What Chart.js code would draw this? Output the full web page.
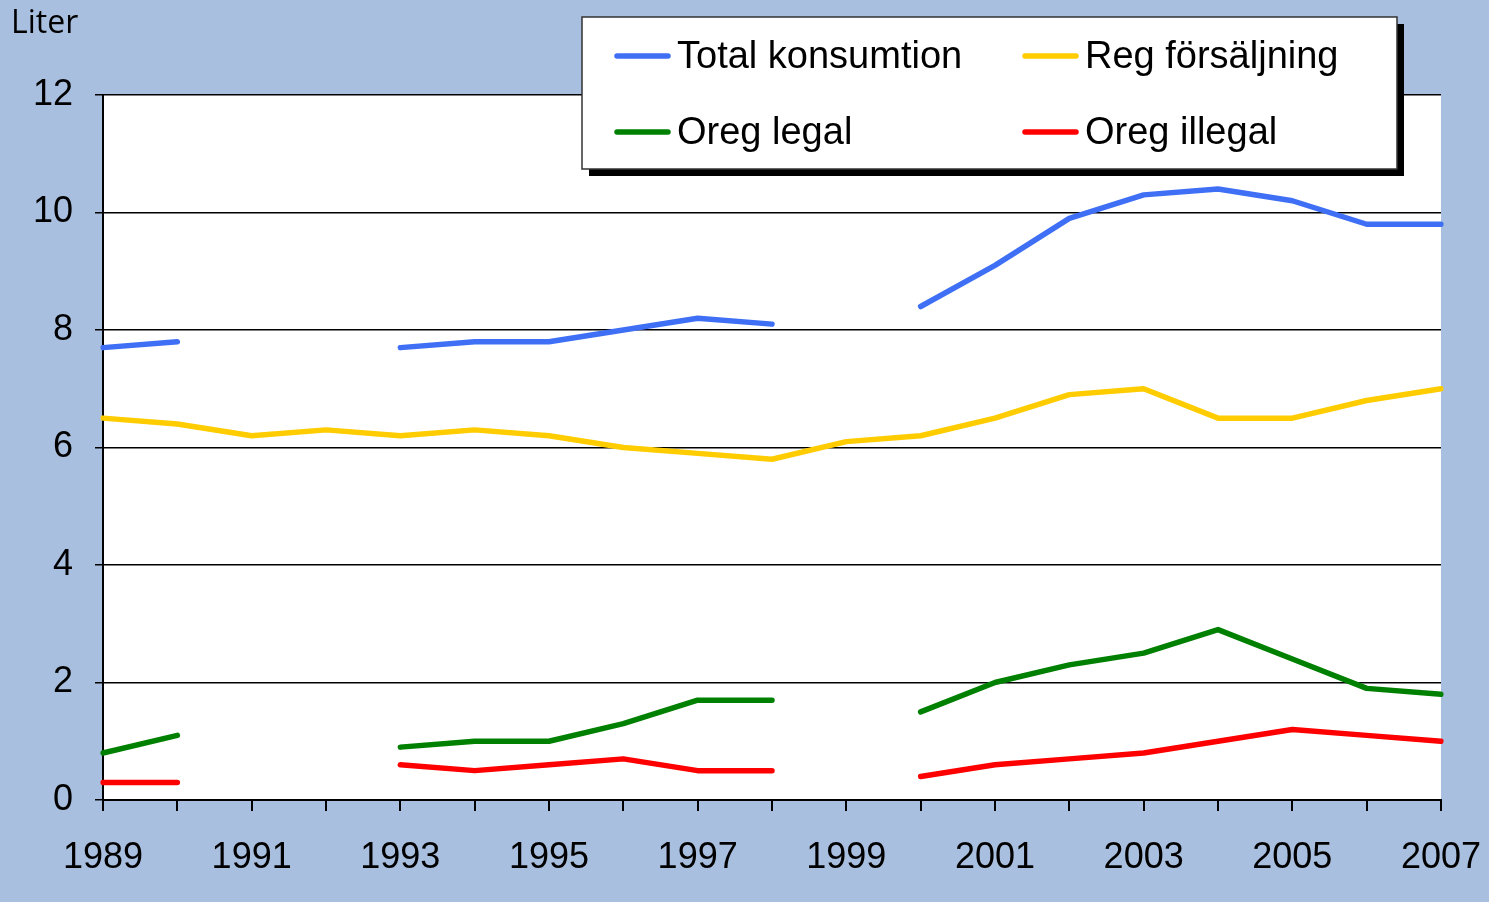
<!DOCTYPE html>
<html>
<head>
<meta charset="utf-8">
<script src="https://cdn.jsdelivr.net/npm/chart.js@4"></script>
<style>
  html, body { margin: 0; padding: 0; background: #a9bfdf; }
  #chart { display: block; }
</style>
</head>
<body>
<canvas id="chart" width="1489" height="902"></canvas>
<script>
// Data
var years = ['1989', '1990', '1991', '1992', '1993', '1994', '1995', '1996', '1997', '1998',
             '1999', '2000', '2001', '2002', '2003', '2004', '2005', '2006', '2007'];
var totalKonsumtion = [7.7, 7.8, null, null, 7.7, 7.8, 7.8, 8.0, 8.2, 8.1, null, 8.4, 9.1, 9.9, 10.3, 10.4, 10.2, 9.8, 9.8];
var regForsaljning  = [6.5, 6.4, 6.2, 6.3, 6.2, 6.3, 6.2, 6.0, 5.9, 5.8, 6.1, 6.2, 6.5, 6.9, 7.0, 6.5, 6.5, 6.8, 7.0];
var oregLegal       = [0.8, 1.1, null, null, 0.9, 1.0, 1.0, 1.3, 1.7, 1.7, null, 1.5, 2.0, 2.3, 2.5, 2.9, 2.4, 1.9, 1.8];
var oregIllegal     = [0.3, 0.3, null, null, 0.6, 0.5, 0.6, 0.7, 0.5, 0.5, null, 0.4, 0.6, 0.7, 0.8, 1.0, 1.2, 1.1, 1.0];
var yTicks = [0, 2, 4, 6, 8, 10, 12];

var FONT = '"Liberation Sans", Arial, sans-serif';

function series(label, data, color) {
  return {
    label: label,
    data: data,
    borderColor: color,
    backgroundColor: color,
    borderWidth: 5.5,
    borderCapStyle: 'round',
    borderJoinStyle: 'round',
    pointRadius: 0,
    tension: 0,
    spanGaps: false
  };
}

// Legend box + "Liter" label, drawn on top
var boxLegend = {
  id: 'boxLegend',
  afterDraw: function(chart) {
    var ctx = chart.ctx;
    ctx.save();
    // Liter
    ctx.fillStyle = '#000';
    ctx.font = '32px "Open Sans", sans-serif';
    ctx.textBaseline = 'middle';
    ctx.textAlign = 'left';
    ctx.fillText('Liter', 11, 24);

    // box with shadow
    var x = 582, y = 17, w = 815, h = 152;
    ctx.fillStyle = '#000';
    ctx.fillRect(x + 7, y + 7, w, h);
    ctx.fillStyle = '#fff';
    ctx.fillRect(x, y, w, h);
    ctx.strokeStyle = '#333';
    ctx.lineWidth = 1.5;
    ctx.strokeRect(x, y, w, h);

    var pos = [[617, 56], [1025, 56], [617, 132], [1025, 132]];
    chart.data.datasets.forEach(function(ds, i) {
      var p = pos[i];
      ctx.strokeStyle = ds.borderColor;
      ctx.lineWidth = 5.5;
      ctx.lineCap = 'round';
      ctx.beginPath();
      ctx.moveTo(p[0], p[1]);
      ctx.lineTo(p[0] + 51, p[1]);
      ctx.stroke();
      ctx.fillStyle = '#000';
      ctx.font = '38px ' + FONT;
      ctx.textBaseline = 'middle';
      ctx.fillText(ds.label, p[0] + 60, p[1] + 2);
    });
    ctx.restore();
  }
};

var lineChart = new Chart(document.getElementById('chart').getContext('2d'), {
  type: 'line',
  data: {
    labels: years,
    datasets: [
      series('Total konsumtion', totalKonsumtion, '#3e6ff5'),
      series('Reg försäljning', regForsaljning, '#ffcc00'),
      series('Oreg legal', oregLegal, '#008000'),
      series('Oreg illegal', oregIllegal, '#ff0000')
    ]
  },
  options: {
    responsive: false,
    animation: false,
    layout: { autoPadding: false, padding: { top: 95, right: 48, left: 0, bottom: 0 } },
    plugins: {
      legend: { display: false },
      tooltip: { enabled: false }
    },
    scales: {
      x: {
        offset: false,
        grid: { drawOnChartArea: false, drawTicks: true, tickLength: 11, color: '#000', lineWidth: 2 },
        border: { color: '#000', width: 2 },
        ticks: {
          autoSkip: false,
          maxRotation: 0,
          color: '#000',
          padding: 25,
          font: { family: FONT, size: 36 },
          callback: function(v, i) { return i % 2 === 0 ? years[i] : ''; }
        },
        afterFit: function(scale) {
          scale.height = 102;
          scale.paddingLeft = 0;
          scale.paddingRight = 0;
        }
      },
      y: {
        min: 0,
        max: 12,
        afterBuildTicks: function(scale) { scale.ticks = yTicks.map(function(v) { return { value: v }; }); },
        grid: { color: '#000', lineWidth: 1.5, tickLength: 8 },
        border: { color: '#000', width: 2 },
        ticks: { color: '#000', padding: 22, font: { family: FONT, size: 36 } },
        afterFit: function(scale) {
          scale.width = 103;
          scale.paddingTop = 0;
          scale.paddingBottom = 0;
        }
      }
    }
  },
  plugins: [{
    id: 'bg',
    beforeDraw: function(chart) {
      var ctx = chart.ctx, a = chart.chartArea;
      ctx.save();
      ctx.fillStyle = '#a9bfdf';
      ctx.fillRect(0, 0, chart.width, chart.height);
      ctx.fillStyle = '#fff';
      ctx.fillRect(a.left, a.top, a.right - a.left, a.bottom - a.top);
      ctx.restore();
    }
  }, boxLegend]
});
</script>
</body>
</html>
